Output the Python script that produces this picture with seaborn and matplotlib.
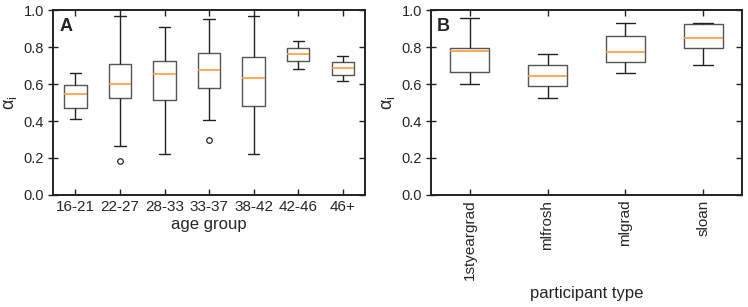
import matplotlib
matplotlib.use('Agg')
import matplotlib.pyplot as plt
import matplotlib.lines as mlines
import seaborn as sns
import pandas as pd

# panel A: age groups, five-number summaries
age_groups = ['16-21', '22-27', '28-33', '33-37', '38-42', '42-46', '46+']
age_lo = [0.411, 0.267, 0.223, 0.404, 0.222, 0.683, 0.614]
age_q1 = [0.472, 0.524, 0.514, 0.580, 0.481, 0.723, 0.647]
age_med = [0.546, 0.602, 0.654, 0.674, 0.632, 0.760, 0.685]
age_q3 = [0.596, 0.708, 0.726, 0.766, 0.748, 0.795, 0.717]
age_hi = [0.658, 0.968, 0.910, 0.951, 0.968, 0.831, 0.753]
age_out = {'22-27': [0.182], '33-37': [0.295]}

# panel B: participant types
ptypes = ['1styeargrad', 'mlfrosh', 'mlgrad', 'sloan']
pt_lo = [0.600, 0.526, 0.659, 0.701]
pt_q1 = [0.665, 0.587, 0.717, 0.796]
pt_med = [0.778, 0.645, 0.775, 0.847]
pt_q3 = [0.796, 0.703, 0.858, 0.926]
pt_hi = [0.957, 0.764, 0.932, 0.932]


# nine points per group so the quartiles come out as read
def long_frame(groups, lo, q1, med, q3, hi, outliers=None):
    rows = []
    for i, g in enumerate(groups):
        vals = [lo[i], lo[i], q1[i], q1[i], med[i], q3[i], q3[i], hi[i], hi[i]]
        if outliers and g in outliers:
            vals = outliers[g] + vals[1:]
        for v in vals:
            rows.append({'group': g, 'alpha': v})
    return pd.DataFrame(rows)


df_a = long_frame(age_groups, age_lo, age_q1, age_med, age_q3, age_hi, age_out)
df_b = long_frame(ptypes, pt_lo, pt_q1, pt_med, pt_q3, pt_hi)

sns.set_style('ticks')
plt.rcParams['font.family'] = ['Liberation Sans', 'DejaVu Sans']

fig = plt.figure(figsize=(7.48, 3.07), dpi=100)
ax1 = fig.add_axes([0.071, 0.365, 0.417, 0.602])
ax2 = fig.add_axes([0.576, 0.365, 0.416, 0.602])

box_kw = dict(x='group', y='alpha', width=0.5, fill=False, color='#222222',
              linewidth=1.0, whis=1.5,
              boxprops=dict(color='#555555'),
              medianprops=dict(color='#ff9a3c', linewidth=1.2),
              flierprops=dict(marker='o', markersize=4, markerfacecolor='none',
                              markeredgecolor='#222222', markeredgewidth=0.9))

sns.boxplot(data=df_a, ax=ax1, order=age_groups, **box_kw)
sns.boxplot(data=df_b, ax=ax2, order=ptypes, **box_kw)

for ax, lab in [(ax1, 'A'), (ax2, 'B')]:
    ax.set_ylim(0, 1.0)
    ax.set_yticks([0, 0.2, 0.4, 0.6, 0.8, 1.0])
    ax.set_yticklabels(['0.0', '0.2', '0.4', '0.6', '0.8', '1.0'])
    ax.set_ylabel(r'$\mathregular{\alpha_i}$', fontsize=13, labelpad=3)
    ax.tick_params(axis='both', labelsize=11, top=True, right=True,
                   direction='in', length=4, width=1.0, color='#222222')
    ax.tick_params(axis='y', direction='inout', length=7, labelsize=10.5,
                   pad=3, labelright=False)
    for s in ax.spines.values():
        s.set_linewidth(1.4)
        s.set_color('#222222')
        s.set_visible(True)
    ax.text(0.02, 0.96, lab, transform=ax.transAxes, fontsize=13,
            fontweight='bold', va='top', ha='left')
    # right-hand ticks point inward only
    for t in ax.yaxis.get_major_ticks():
        t.tick2line.set_markersize(4)
        t.tick2line.set_marker(mlines.TICKLEFT)

ax1.set_xlabel('age group', fontsize=12, labelpad=2)
ax2.set_xlabel('participant type', fontsize=12, labelpad=4)
ax2.tick_params(axis='x', labelrotation=90)

fig.savefig('out.png', dpi=100)
